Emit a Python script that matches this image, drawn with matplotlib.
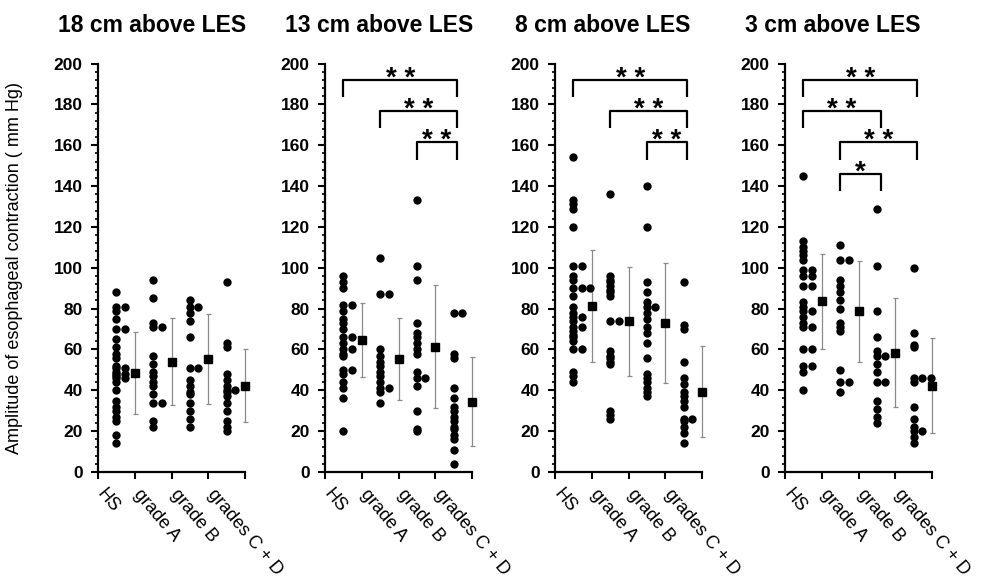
import numpy as np
import matplotlib.pyplot as plt
from matplotlib.ticker import MultipleLocator

plt.rcParams["font.family"] = ["Liberation Sans", "DejaVu Sans"]

groups = ["HS", "grade A", "grade B", "grades C + D"]
titles = ["18 cm above LES", "13 cm above LES", "8 cm above LES", "3 cm above LES"]
ylabel = "Amplitude of esophageal contraction ( mm Hg)"

# 18 cm above LES
hs_18 = [88, 81, 81, 79, 75, 70, 70, 65, 61, 58, 56, 52, 51, 51, 49, 48, 48, 47,
         46, 46, 44, 40, 35, 32, 30, 27, 25, 18, 14]
a_18 = [94, 85, 73, 71, 71, 57, 53, 49, 47, 44, 42, 38, 34, 34, 25, 22]
b_18 = [84, 81, 81, 78, 74, 66, 51, 51, 45, 42, 39, 38, 34, 30, 26, 22]
cd_18 = [93, 63, 61, 48, 45, 42, 40, 40, 39, 37, 34, 30, 25, 22, 20]
mean_18 = [48.4, 54.1, 55.2, 42.3]
sd_18 = [20.0, 21.2, 22.1, 17.9]

# 13 cm above LES
hs_13 = [96, 93, 90, 82, 82, 79, 75, 73, 70, 66, 66, 63, 60, 60, 58, 57, 50, 50,
         48, 44, 41, 36, 20]
a_13 = [105, 87, 87, 60, 57, 54, 52, 49, 47, 44, 41, 41, 39, 34]
b_13 = [133, 101, 94, 73, 68, 66, 63, 60, 58, 49, 46, 46, 42, 30, 21, 20]
cd_13 = [78, 78, 58, 56, 41, 36, 32, 30, 27, 25, 22, 21, 18, 16, 11, 4]
mean_13 = [64.5, 55.3, 61.3, 34.5]
sd_13 = [18.2, 20.0, 30.2, 22.0]

# 8 cm above LES
hs_8 = [154, 133, 131, 129, 120, 101, 101, 96, 94, 90, 90, 90, 86, 81, 78, 76, 76,
        74, 71, 71, 69, 67, 66, 64, 60, 60, 49, 47, 44]
a_8 = [136, 96, 94, 93, 91, 89, 88, 86, 74, 74, 59, 57, 56, 54, 53, 30, 28, 26]
b_8 = [140, 120, 93, 88, 83, 81, 81, 78, 75, 71, 68, 63, 56, 48, 46, 44, 41, 39, 37]
cd_8 = [93, 72, 70, 54, 46, 43, 39, 37, 35, 32, 26, 26, 25, 22, 19, 14]
mean_8 = [81.5, 73.7, 72.9, 39.4]
sd_8 = [27.4, 26.9, 29.4, 22.4]

# 3 cm above LES
hs_3 = [145, 113, 110, 108, 106, 104, 99, 99, 96, 96, 91, 91, 83, 81, 79, 79, 76,
        73, 71, 71, 60, 60, 52, 52, 49, 40]
a_3 = [111, 104, 104, 94, 91, 88, 84, 80, 73, 71, 69, 50, 44, 44, 39]
b_3 = [129, 101, 79, 66, 59, 57, 57, 53, 49, 44, 44, 35, 31, 27, 24]
cd_3 = [100, 68, 62, 61, 46, 46, 46, 44, 32, 26, 22, 20, 20, 17, 14]
mean_3 = [83.5, 78.6, 58.4, 42.2]
sd_3 = [23.4, 24.5, 26.7, 23.3]

# significance brackets: (group i, group j, stars)
sig_18 = []
sig_13 = [(0, 3, "* *"), (1, 3, "* *"), (2, 3, "* *")]
sig_8 = [(0, 3, "* *"), (1, 3, "* *"), (2, 3, "* *")]
sig_3 = [(0, 3, "* *"), (0, 2, "* *"), (1, 3, "* *"), (1, 2, "*")]

panels = [
    ([hs_18, a_18, b_18, cd_18], mean_18, sd_18, sig_18),
    ([hs_13, a_13, b_13, cd_13], mean_13, sd_13, sig_13),
    ([hs_8, a_8, b_8, cd_8], mean_8, sd_8, sig_8),
    ([hs_3, a_3, b_3, cd_3], mean_3, sd_3, sig_3),
]


def spread(values, step=0.23):
    # push exact duplicates sideways, like a prism scatter column
    xs = []
    seen = {}
    for v in values:
        k = seen.get(v, 0)
        xs.append(k * step)
        seen[v] = k + 1
    return np.array(xs)


W, H = 992, 584
fig = plt.figure(figsize=(W / 100, H / 100), dpi=100)
lefts = [98, 325, 555, 785]
y_bot, y_top = 472, 63.5

for p, (left, (data, means, sds, sigs)) in enumerate(zip(lefts, panels)):
    ax = fig.add_axes([left / W, (H - y_bot) / H, 147 / W, (y_bot - y_top) / H])

    for i, vals in enumerate(data):
        ax.scatter(i + spread(vals), vals, s=36, color="black", linewidths=0,
                   zorder=3, clip_on=False)
        ax.errorbar(i + 0.5, means[i], yerr=sds[i], fmt="s", color="black", ms=5.5,
                    ecolor="#8a8a8a", elinewidth=0.9, capsize=1.8, capthick=0.9,
                    zorder=2, clip_on=False)

    for k, (i, j, label) in enumerate(sigs):
        y = 192 - 15.3 * k
        x0, x1 = i, j + 0.1
        ax.plot([x0, x0, x1, x1], [y - 8.5, y, y, y - 8.5], color="black", lw=1.6,
                solid_capstyle="butt", zorder=4)
        ax.text((x0 + x1) / 2, y - 2.8, label, ha="center", va="baseline",
                fontsize=20, fontweight="bold")

    ax.set_xlim(-0.5, 3.5)
    ax.set_ylim(0, 200)
    ax.set_xticks(np.arange(4) - 0.27)
    ax.set_xticklabels(groups, rotation=-50, ha="left", va="top",
                       rotation_mode="anchor", fontsize=13)
    ax.set_xticks(np.arange(-0.5, 4, 1), minor=True)
    ax.tick_params(axis="x", which="major", length=0, pad=10)
    ax.tick_params(axis="x", which="minor", length=5, width=1.5)
    ax.set_yticks(range(0, 201, 20))
    ax.yaxis.set_minor_locator(MultipleLocator(4))
    ax.tick_params(axis="y", which="major", length=5, width=1.5, labelsize=12.5, pad=6)
    ax.tick_params(axis="y", which="minor", length=2.5, width=1.2)
    for lab in ax.get_yticklabels():
        lab.set_fontweight("bold")
    for s in ["top", "right"]:
        ax.spines[s].set_visible(False)
    for s in ["left", "bottom"]:
        ax.spines[s].set_linewidth(1.6)

    fig.text((left - 40) / W, 1 - 26 / H, titles[p], fontsize=16.5,
             fontweight="bold", ha="left", va="center")

fig.text(15 / W, 1 - 268 / H, ylabel, rotation=90, ha="center", va="center",
         fontsize=13)

fig.savefig("out.png", dpi=100)
